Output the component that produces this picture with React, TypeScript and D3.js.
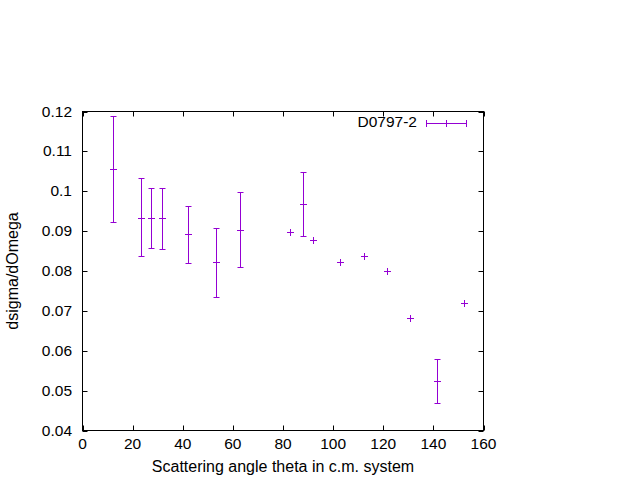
import React from 'react'
import * as d3 from 'd3'

// scattering angle (deg), cross section, lower/upper error bar ends
const angles = [12.1, 23.3, 27.2, 31.7, 42.1, 53.3, 62.7, 82.9, 88.1, 92.1, 102.9, 112.3, 121.3, 130.7, 141.3, 152.1]
const values = [0.1057, 0.0934, 0.0932, 0.0932, 0.0892, 0.0822, 0.0904, 0.0897, 0.0969, 0.0877, 0.0823, 0.0838, 0.0801, 0.0682, 0.0524, 0.0719]
const lows = [0.0922, 0.0837, 0.0857, 0.0854, 0.0819, 0.0734, 0.081, 0.0897, 0.0889, 0.0877, 0.0823, 0.0838, 0.0801, 0.0682, 0.0469, 0.0719]
const highs = [0.1189, 0.1032, 0.1009, 0.1009, 0.0964, 0.0907, 0.0999, 0.0897, 0.1049, 0.0877, 0.0823, 0.0838, 0.0801, 0.0682, 0.0579, 0.0719]
const xTicks = [0, 20, 40, 60, 80, 100, 120, 140, 160]
const yTicks = [0.04, 0.05, 0.06, 0.07, 0.08, 0.09, 0.1, 0.11, 0.12]
const seriesName = 'D0797-2'

const W = 640
const H = 480
const left = 82.5
const right = 483.5
const top = 111.5
const bottom = 430.5
const color = '#9400d3'
const font = 'Liberation Sans, Arial, sans-serif'
const fs = 15.5

export default function App() {
  const x = d3.scaleLinear().domain([0, 160]).range([left, right])
  const y = d3.scaleLinear().domain([0.04, 0.12]).range([bottom, top])
  const tl = 5
  const cap = 3
  const pt = 3.5
  const r = (v: number) => Math.round(v) + 0.5

  return (
    <svg width={W} height={H} style={{ position: 'absolute', left: 0, top: 0, background: '#fff' }}
      fontFamily={font}>
      <rect x={0} y={0} width={W} height={H} fill="#fff" />
      {/* ticks */}
      {xTicks.map(t => (
        <g key={'x' + t}>
          <line x1={r(x(t))} x2={r(x(t))} y1={bottom} y2={bottom - tl} stroke="#000" />
          <line x1={r(x(t))} x2={r(x(t))} y1={top} y2={top + tl} stroke="#000" />
          <text x={x(t)} y={bottom + 18.5} fontSize={fs} textAnchor="middle" fill="#000">{t}</text>
        </g>
      ))}
      {yTicks.map(t => (
        <g key={'y' + t}>
          <line x1={left} x2={left + tl} y1={r(y(t))} y2={r(y(t))} stroke="#000" />
          <line x1={right} x2={right - tl} y1={r(y(t))} y2={r(y(t))} stroke="#000" />
          <text x={left - 10.5} y={y(t) + 5} fontSize={fs} textAnchor="end" fill="#000">{d3.format('~g')(t)}</text>
        </g>
      ))}
      <rect x={left} y={top} width={right - left} height={bottom - top} fill="none" stroke="#000" />
      {/* data */}
      {angles.map((a, i) => {
        const cx = r(x(a))
        const cy = r(y(values[i]))
        const y0 = r(y(lows[i]))
        const y1 = r(y(highs[i]))
        const hasBar = Math.abs(y0 - y1) > 1
        return (
          <g key={i} stroke={color} strokeWidth={1}>
            {hasBar && (
              <>
                <line x1={cx} x2={cx} y1={y0} y2={y1} />
                <line x1={cx - cap} x2={cx + cap} y1={y0} y2={y0} />
                <line x1={cx - cap} x2={cx + cap} y1={y1} y2={y1} />
              </>
            )}
            <line x1={cx - pt} x2={cx + pt} y1={cy} y2={cy} />
            <line x1={cx} x2={cx} y1={cy - pt} y2={cy + pt} />
          </g>
        )
      })}
      {/* legend */}
      <text x={417} y={127} fontSize={fs} textAnchor="end" fill="#000">{seriesName}</text>
      <g stroke={color}>
        <line x1={426} x2={467} y1={123.5} y2={123.5} />
        <line x1={426.5} x2={426.5} y1={120} y2={127} />
        <line x1={466.5} x2={466.5} y1={120} y2={127} />
        <line x1={446.5} x2={446.5} y1={120} y2={127} />
      </g>
      {/* axis labels */}
      <text x={283} y={472} fontSize={16} textAnchor="middle" fill="#000">Scattering angle theta in c.m. system</text>
      <text transform={`translate(18,${(top + bottom) / 2}) rotate(-90)`} fontSize={16} textAnchor="middle" fill="#000">dsigma/dOmega</text>
    </svg>
  )
}
